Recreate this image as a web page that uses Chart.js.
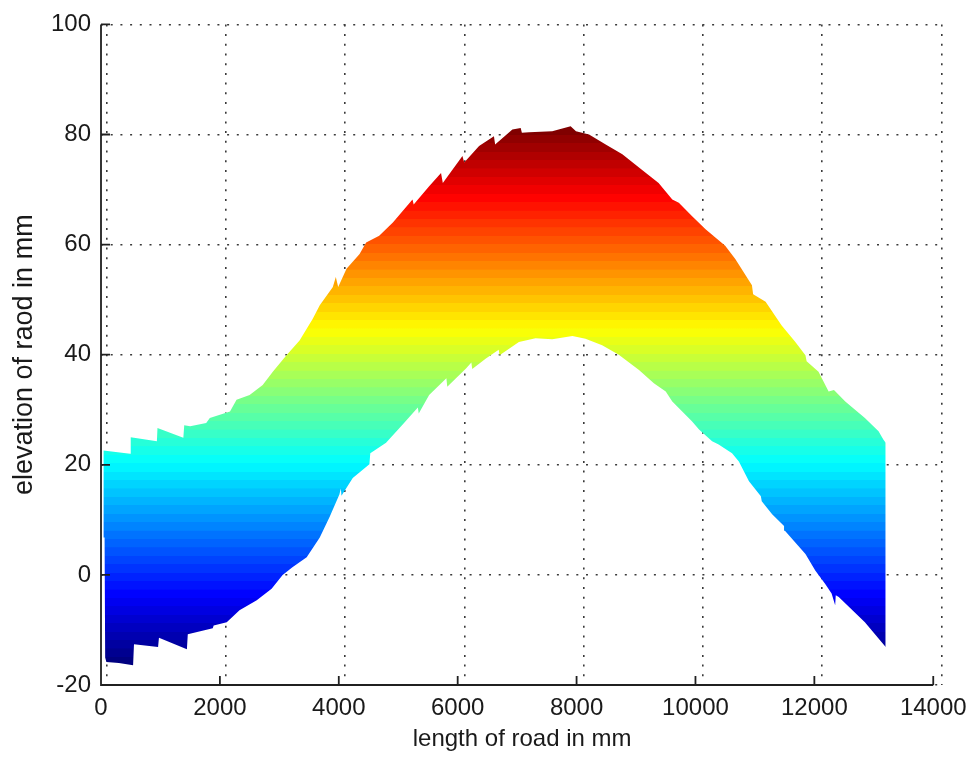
<!DOCTYPE html>
<html>
<head>
<meta charset="utf-8">
<title>Road elevation</title>
<script src="https://cdn.jsdelivr.net/npm/chart.js"></script>
<style>
    html, body { margin: 0; background: #fff; }
    #wrap { width: 976px; height: 759px; position: relative; }
</style>
</head>
<body>
<div id="wrap"><canvas id="chart"></canvas></div>
<script>
// upper edge of the measured road surface (length in mm, elevation in mm)
const topLength = [40, 490, 500, 940, 950, 1385, 1400, 1500, 1770, 1830, 2170, 2280, 2500, 2720, 2890,
    3120, 3340, 3560, 3680, 3900, 3950, 3990, 4130, 4350, 4460, 4680, 4910, 5240, 5260, 5520,
    5720, 5750, 6080, 6110, 6360, 6610, 6630, 6920, 7060, 7080, 7200, 7590, 7900, 7990, 8210,
    8490, 8770, 9050, 9380, 9610, 9720, 9940, 10170, 10500, 10670, 10950, 10970, 11180, 11450, 11680,
    11850, 11870, 12070, 12240, 12330, 12520, 12850, 13080, 13160, 13200];
const topElevation = [22.6, 22.0, 25.0, 24.3, 26.7, 24.9, 27.2, 27.0, 27.6, 28.5, 29.7, 31.8, 32.7, 34.5, 36.9,
    39.9, 42.6, 46.5, 49.0, 52.3, 54.1, 52.3, 55.6, 58.3, 60.4, 61.6, 64.0, 68.2, 67.3, 70.6,
    73.0, 71.2, 76.1, 74.9, 77.9, 79.7, 78.2, 80.9, 81.2, 80.3, 80.4, 80.6, 81.5, 80.6, 80.0,
    78.2, 76.4, 74.0, 71.2, 68.2, 67.6, 65.2, 62.8, 59.8, 57.4, 52.6, 51.0, 49.6, 45.3, 42.3,
    39.9, 38.8, 36.9, 33.3, 33.6, 31.5, 28.5, 26.1, 24.6, 24.0];

// lower edge of the measured road surface
const bottomLength = [40, 60, 70, 90, 300, 540, 555, 960, 975, 1445, 1460, 1880, 1895, 2115, 2330,
    2620, 2870, 3055, 3220, 3460, 3680, 3845, 4010, 4035, 4045, 4235, 4515, 4530, 4795, 5075,
    5330, 5345, 5520, 5810, 5825, 6140, 6230, 6245, 6475, 6690, 6705, 7030, 7310, 7590, 7930,
    8150, 8430, 8710, 9050, 9300, 9500, 9610, 9940, 10060, 10280, 10390, 10615, 10730, 10900, 11100,
    11115, 11290, 11490, 11505, 11850, 12015, 12180, 12290, 12350, 12360, 12410, 12850, 13200];
const bottomElevation = [6.8, 6.8, -15.0, -15.8, -16.0, -16.4, -12.6, -13.1, -11.4, -13.5, -10.8, -9.7, -9.2, -8.6, -6.4,
    -4.6, -2.5, 0.0, 1.4, 3.2, 6.8, 10.5, 14.6, 15.7, 14.4, 17.6, 20.1, 22.1, 24.0, 27.3,
    30.4, 29.3, 32.7, 35.7, 34.2, 37.5, 38.6, 37.4, 39.3, 40.9, 39.9, 42.3, 43.0, 42.8, 43.4,
    42.9, 41.7, 40.0, 37.2, 34.8, 33.3, 31.5, 27.9, 26.4, 24.3, 23.7, 22.1, 20.6, 17.0, 14.3,
    13.4, 11.0, 8.9, 8.0, 3.8, 0.8, -1.6, -3.4, -5.5, -3.7, -4.0, -8.6, -13.1];

const lengthTicks = [0, 2000, 4000, 6000, 8000, 10000, 12000, 14000];
const elevationTicks = [-20, 0, 20, 40, 60, 80, 100];

const INK = "#1a1a1a";
const GRID_DOTS = { color: "#3a3a3a", lineWidth: 1.6, dash: [2, 7.7] };
const TICK_LEN = 9;

Chart.defaults.font.family = "'Liberation Sans', Arial, Helvetica, sans-serif";
Chart.defaults.color = INK;

/**
 * MATLAB style jet colour for t in [0, 1].
 */
function jet(t) {
    const c = v => Math.round(255 * Math.max(0, Math.min(1, v)));
    return `rgb(${c(1.5 - Math.abs(4 * t - 3))},${c(1.5 - Math.abs(4 * t - 2))},${c(1.5 - Math.abs(4 * t - 1))})`;
}

// colour limits follow the data, 64 flat bands like jet(64)
const colourMin = Math.min(...bottomElevation);
const colourMax = Math.max(...topElevation);
let bandGradient = null;

function bandFill(context) {
    const chart = context.chart;
    if (!chart.chartArea) {
        return null;
    }
    const y = chart.scales.y;
    const y0 = y.getPixelForValue(colourMin);
    const y1 = y.getPixelForValue(colourMax);
    if (bandGradient && bandGradient.y0 === y0 && bandGradient.y1 === y1) {
        return bandGradient.fill;
    }
    const g = chart.ctx.createLinearGradient(0, y0, 0, y1);
    const levels = 64;
    for (let i = 0; i < levels; i++) {
        const col = jet(i / (levels - 1));
        g.addColorStop(i / levels, col);
        g.addColorStop(Math.min(1, (i + 1) / levels - 0.0005), col);
    }
    bandGradient = { y0: y0, y1: y1, fill: g };
    return g;
}

function toPoints(xs, ys) {
    return xs.map((x, i) => ({ x: x, y: ys[i] }));
}

function fixedTicks(values) {
    return function (scale) {
        scale.ticks = values.map(v => ({ value: v }));
    };
}

// solid left/bottom axis with inward ticks
const boxAxes = {
    id: "boxAxes",
    afterDatasetsDraw(chart) {
        const { ctx, scales } = chart;
        const x = scales.x;
        const y = scales.y;
        const left = x.getPixelForValue(lengthTicks[0]);
        const right = x.getPixelForValue(lengthTicks[lengthTicks.length - 1]);
        const top = y.getPixelForValue(elevationTicks[elevationTicks.length - 1]);
        const bottom = y.getPixelForValue(elevationTicks[0]);

        ctx.save();
        ctx.strokeStyle = "#202020";
        ctx.lineWidth = 1.8;
        ctx.beginPath();
        ctx.moveTo(left, top);
        ctx.lineTo(left, bottom);
        ctx.lineTo(right, bottom);
        for (const v of lengthTicks) {
            const px = x.getPixelForValue(v);
            ctx.moveTo(px, bottom);
            ctx.lineTo(px, bottom - TICK_LEN);
        }
        for (const v of elevationTicks) {
            const py = y.getPixelForValue(v);
            ctx.moveTo(left, py);
            ctx.lineTo(left + TICK_LEN, py);
        }
        ctx.stroke();
        ctx.restore();
    }
};

function buildChart() {
    const chartElement = document.getElementById("chart");

    new Chart(chartElement, {
        type: "line",
        plugins: [boxAxes],
        data: {
            datasets: [{
                label: "bottom",
                data: toPoints(bottomLength, bottomElevation),
                xAxisID: "x",
                yAxisID: "y",
                borderWidth: 0,
                borderColor: "transparent",
                pointRadius: 0,
                fill: false
            }, {
                label: "top",
                data: toPoints(topLength, topElevation),
                xAxisID: "x",
                yAxisID: "y",
                borderWidth: 0,
                borderColor: "transparent",
                pointRadius: 0,
                backgroundColor: bandFill,
                fill: "-1"
            }]
        },
        options: {
            responsive: true,
            maintainAspectRatio: false,
            animation: false,
            events: [],
            layout: { padding: { top: 21, right: 32, bottom: 0, left: 0 } },
            elements: { line: { tension: 0 } },
            scales: {
                x: {
                    type: "linear",
                    position: "bottom",
                    min: 0,
                    // axis runs slightly past the last tick so the dotted grid fits
                    max: 14168,
                    afterBuildTicks: fixedTicks(lengthTicks),
                    afterFit(scale) { scale.height = 74; },
                    grid: { display: false, drawTicks: false },
                    border: { display: false },
                    ticks: {
                        font: { size: 24 },
                        padding: 9,
                        maxRotation: 0,
                        autoSkip: false,
                        callback: v => String(v)
                    },
                    title: {
                        display: true,
                        text: "length of road in mm",
                        font: { size: 24 },
                        padding: { top: 0, bottom: 5 }
                    }
                },
                // the dotted vertical grid sits a few pixels right of the tick marks
                xg: {
                    type: "linear",
                    position: "bottom",
                    min: -92,
                    max: 14029,
                    afterBuildTicks: fixedTicks(lengthTicks),
                    afterFit(scale) { scale.height = 0; },
                    ticks: { display: false },
                    grid: { color: GRID_DOTS.color, lineWidth: GRID_DOTS.lineWidth, drawTicks: false },
                    border: { display: false, dash: GRID_DOTS.dash }
                },
                y: {
                    type: "linear",
                    position: "left",
                    min: -20,
                    max: 100,
                    afterBuildTicks: fixedTicks(elevationTicks),
                    afterFit(scale) { scale.width = 101; },
                    grid: { color: GRID_DOTS.color, lineWidth: GRID_DOTS.lineWidth, drawTicks: false },
                    border: { display: false, dash: GRID_DOTS.dash },
                    ticks: {
                        font: { size: 24 },
                        padding: 10,
                        callback: v => String(v)
                    },
                    title: {
                        display: true,
                        text: "elevation of raod in mm",
                        font: { size: 27 },
                        padding: { top: 8, bottom: 0 }
                    }
                }
            },
            plugins: {
                legend: { display: false },
                tooltip: { enabled: false }
            }
        }
    });
}

buildChart();
</script>
</body>
</html>
